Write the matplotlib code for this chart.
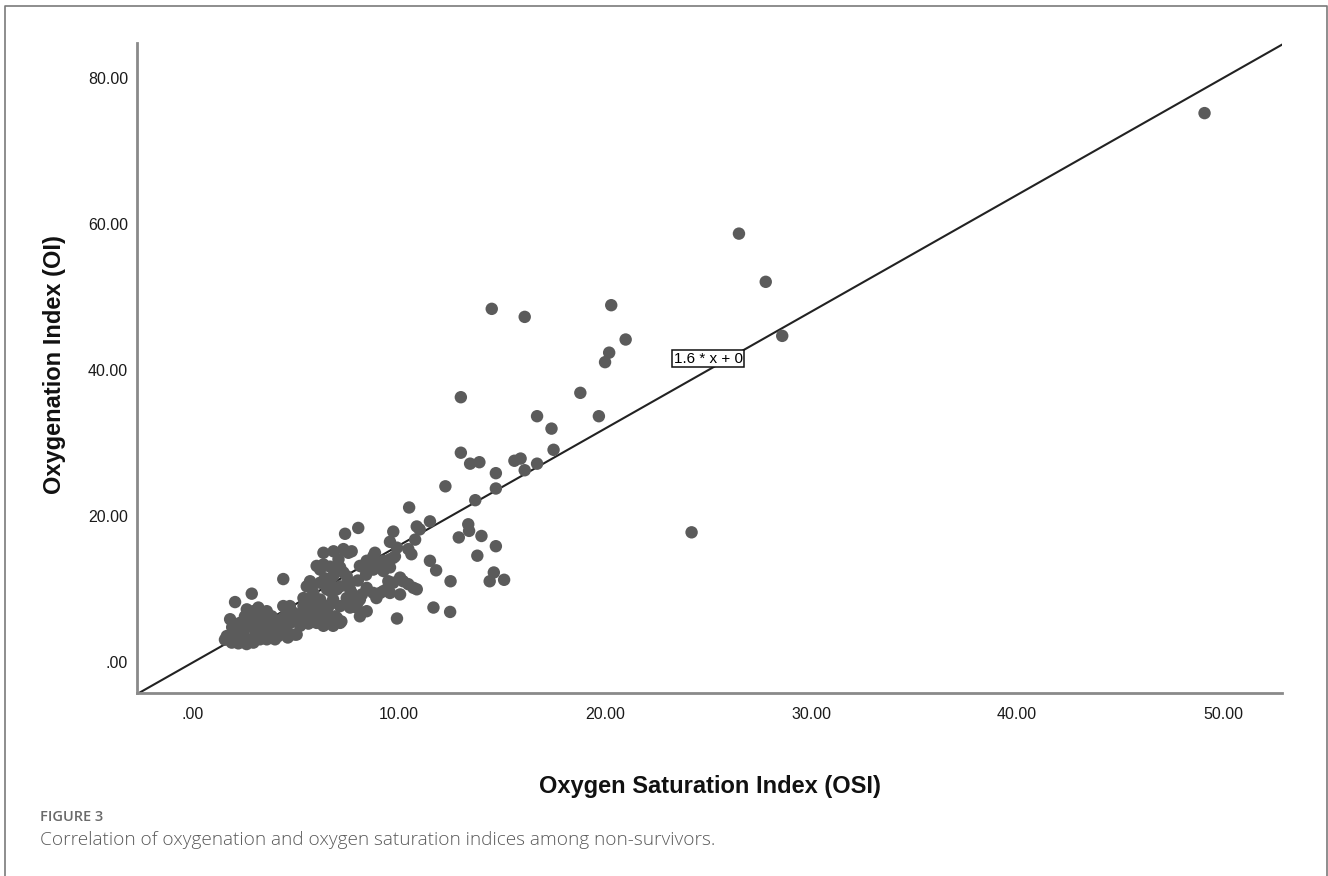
#!/usr/bin/env python3
"""OI vs OSI scatter among non-survivors, with 1.6 * x reference line."""

import matplotlib

matplotlib.use("Agg")
import matplotlib.pyplot as plt
import numpy as np
from matplotlib.lines import Line2D

# Oxygen Saturation Index (x) / Oxygenation Index (y)
osi = [
    49.1, 26.5, 27.8, 28.6, 24.2, 14.5, 16.1, 20.3, 21.0, 20.2, 20.0, 13.0, 18.8,
    16.7, 19.7, 17.4, 17.5, 13.0, 13.45, 13.9, 15.6, 15.9, 16.1, 16.7, 14.7, 14.7,
    13.7, 12.25, 11.5, 13.36, 13.4, 12.9, 14.0, 14.7, 13.8, 11.5, 11.8, 12.5, 14.4,
    14.6, 15.1, 10.49, 10.86, 11.0, 8.02, 7.38, 9.72, 9.56, 10.78, 10.45, 10.6, 7.3,
    7.7, 8.83, 9.8, 9.56, 8.43, 8.6, 8.27, 8.75, 9.08, 9.24, 6.33, 6.65, 6.17, 7.14,
    4.38, 5.68, 6.98, 7.14, 7.62, 7.46, 9.48, 9.4, 10.05, 10.2, 10.45, 10.7, 10.86,
    9.08, 8.9, 9.56, 10.05, 8.43, 11.67, 12.48, 9.9, 8.1, 7.62, 8.0, 7.78, 5.84,
    5.52, 5.68, 6.8, 6.65, 7.14, 7.14, 6.98, 8.1, 8.2, 4.7, 4.87, 5.03, 5.2, 4.38,
    4.55, 5.68, 5.84, 6.17, 6.0, 6.33, 6.5, 6.65, 6.8, 2.85, 2.04, 5.03, 1.55, 7.2,
    6.33, 6.82, 7.54, 6.0, 7.3, 5.76, 5.36, 6.17, 6.33, 6.5, 5.52, 5.36, 5.44, 6.9,
    6.98, 7.46, 7.62, 7.7, 7.46, 7.94, 8.75, 9.24, 8.1, 8.75, 9.72, 9.56, 9.24,
    9.72, 9.9, 8.43, 6.17, 6.65, 5.84, 6.5, 6.8, 7.06,
    1.80, 1.64, 1.88, 2.12, 2.28, 2.52, 2.61, 2.93, 3.17, 3.58, 3.82, 4.06, 3.9,
    3.74, 3.25, 2.93, 2.61, 2.28, 1.96, 2.77, 3.09, 3.41, 3.74, 4.14, 4.55, 4.71,
    4.55, 4.38, 4.87, 4.95, 2.44, 3.41, 4.38, 3.25, 2.85, 3.58, 3.98, 2.2, 2.6, 3.0,
    2.0, 2.4, 3.0, 3.4, 2.7, 3.9, 4.2, 4.6, 1.9, 3.6, 5.6, 5.9, 6.3, 5.1, 5.8,
    6.7, 6.4, 7.0, 8.4, 8.0,
]
oi = [
    75.2, 58.7, 52.1, 44.7, 17.8, 48.4, 47.3, 48.9, 44.2, 42.4, 41.1, 36.3, 36.9,
    33.7, 33.7, 32.0, 29.1, 28.7, 27.2, 27.4, 27.6, 27.9, 26.3, 27.2, 25.9, 23.8,
    22.2, 24.1, 19.3, 18.9, 18.0, 17.1, 17.3, 15.9, 14.6, 13.9, 12.6, 11.1, 11.1,
    12.3, 11.3, 21.2, 18.6, 18.2, 18.4, 17.6, 17.9, 16.5, 16.8, 15.5, 14.8, 15.5,
    15.2, 15.0, 14.5, 14.1, 13.9, 13.3, 13.0, 12.7, 13.4, 13.9, 13.4, 13.1, 12.7, 13.0,
    11.4, 11.1, 10.0, 10.4, 10.0, 10.7, 11.1, 10.0, 11.6, 11.1, 10.7, 10.2, 10.0,
    9.5, 8.8, 9.5, 9.3, 10.2, 7.5, 6.9, 6.0, 6.3, 7.5, 8.25, 8.85, 9.5,
    10.4, 10.9, 8.6, 7.9, 7.7, 5.4, 6.1, 8.6, 9.3, 7.7, 6.8, 5.9, 5.0, 6.1,
    5.0, 8.6, 7.25, 6.8, 5.4, 5.0, 6.3, 5.4, 5.0, 9.4, 8.25, 3.8, 3.1, 5.6,
    15.0, 15.2, 15.0, 13.2, 12.3, 10.2, 8.8, 8.6, 7.7, 7.25, 6.8, 7.7, 5.9, 6.3,
    5.65, 11.8, 10.9, 9.5, 8.8, 7.5, 9.5, 9.75, 13.2, 14.5, 14.3, 13.0, 12.5,
    10.9, 15.7, 7.0, 10.9, 10.9, 7.9, 10.0, 11.8, 14.1,
    5.9, 3.6, 2.7, 4.5, 5.4, 6.3, 7.25, 7.0, 7.5, 7.0, 6.3, 5.65, 4.5,
    3.6, 3.15, 2.7, 3.15, 3.6, 2.9, 5.0, 5.4, 5.9, 5.2, 3.6, 4.3, 5.4,
    6.8, 7.7, 5.9, 3.8, 4.1, 4.1, 5.2, 6.0, 6.1, 3.15, 3.15, 2.6, 2.5, 4.4,
    4.0, 3.0, 3.6, 4.8, 5.7, 5.9, 4.8, 3.4, 4.8, 6.6, 5.3, 6.0, 6.0, 6.5, 9.0,
    9.7, 11.5, 12.6, 12.0, 11.2,
]

slope = 1.6
x_ticks = [0, 10, 20, 30, 40, 50]
x_tick_labels = [".00", "10.00", "20.00", "30.00", "40.00", "50.00"]
y_ticks = [0, 20, 40, 60, 80]
y_tick_labels = [".00", "20.00", "40.00", "60.00", "80.00"]

plt.rcParams["font.family"] = ["Liberation Sans", "DejaVu Sans"]

W, H = 1328, 876
fig = plt.figure(figsize=(W / 100, H / 100), dpi=100)
ax = fig.add_axes([137 / W, 1 - 693 / H, (1282 - 137) / W, (693 - 43) / H])

ax.scatter(osi, oi, s=80, color="#5b5b5b", edgecolors="none", zorder=3)

# fit line through origin, clipped to the axes
ax.set_xlim(-2.72, 52.86)
ax.set_ylim(-4.2, 84.8)
xl = np.array([-3.0, 60.0])
ax.plot(xl, slope * xl, color="#222222", lw=1.5, zorder=2)
ax.text(25.0, 41.6, "1.6 * x + 0", fontsize=11, ha="center", va="center",
        zorder=4,
        bbox=dict(boxstyle="square,pad=0.12", fc="white", ec="#111111", lw=1.1))

ax.set_xticks(x_ticks)
ax.set_xticklabels(x_tick_labels)
ax.set_yticks(y_ticks)
ax.set_yticklabels(y_tick_labels)
ax.tick_params(axis="both", length=0, labelsize=11.5, colors="#1a1a1a")
ax.tick_params(axis="x", pad=10)
ax.tick_params(axis="y", pad=6.5)
for side in ("top", "right"):
    ax.spines[side].set_visible(False)
for side in ("left", "bottom"):
    ax.spines[side].set_color("#8a8a8a")
    ax.spines[side].set_linewidth(2)

fig.text(709.5 / W, 1 - 787 / H, "Oxygen Saturation Index (OSI)", fontsize=17,
         fontweight="bold", ha="center", va="center", color="#111111")
fig.text(55 / W, 1 - 365 / H, "Oxygenation Index (OI)", fontsize=17,
         fontweight="bold", ha="center", va="center", rotation=90,
         color="#111111")

# caption + outer frame
fig.text(40 / W, 1 - 817 / H, "FIGURE 3", fontsize=10.5, fontweight="semibold",
         family=["Open Sans", "DejaVu Sans"], color="#6a6a6a", va="center")
fig.text(40 / W, 1 - 840 / H,
         "Correlation of oxygenation and oxygen saturation indices among non-survivors.",
         fontsize=13.7, fontweight="light", family=["Open Sans", "DejaVu Sans"],
         color="#5a5a5a", va="center")

fx0, fx1, fy1 = 4.5 / W, 1327 / W, 1 - 5.5 / H
fig.add_artist(Line2D([fx0, fx0, fx1, fx1], [-0.01, fy1, fy1, -0.01],
                      transform=fig.transFigure, color="#7a7a7a", lw=1.2))

fig.savefig("out.png", dpi=100)
